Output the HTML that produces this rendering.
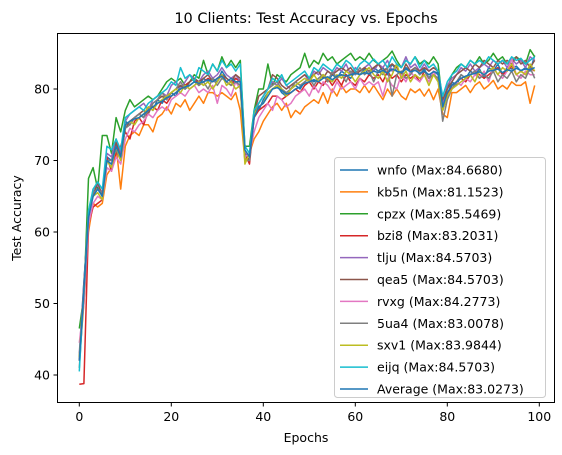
<!DOCTYPE html>
<html><head><meta charset="utf-8"><style>
body{margin:0;background:#fff;}
svg{display:block;font-family:"DejaVu Sans","Liberation Sans",sans-serif;}
</style></head><body>
<svg id="chart" width="562" height="455" viewBox="0 0 562 455" xmlns="http://www.w3.org/2000/svg">
<rect width="562" height="455" fill="#fff"/>
<text x="306" y="23" text-anchor="middle" font-size="14.5">10 Clients: Test Accuracy vs. Epochs</text>
<text x="306" y="442" text-anchor="middle" font-size="12.5">Epochs</text>
<text transform="translate(21,218) rotate(-90)" text-anchor="middle" font-size="12.5">Test Accuracy</text>
<g id="ticks"></g>
<g id="lines"></g>
<rect x="57.5" y="33.5" width="497" height="369" fill="none" stroke="#000" stroke-width="1"/>
<g id="legend"></g>
</svg>
<script>
const xTicks=[0,20,40,60,80,100];
const yTicks=[40,50,60,70,80];
const names=["wnfo","kb5n","cpzx","bzi8","tlju","qea5","rvxg","5ua4","sxv1","eijq","Average"];
const maxLabels=["84.6680","81.1523","85.5469","83.2031","84.5703","84.5703","84.2773","83.0078","83.9844","84.5703","83.0273"];
const wnfo=[42.5,53,62.5,65.5,66.5,65,70.5,70,72.5,70.5,75.5,75,76,76.5,76,77.5,77,78.5,78,79,79.5,79,80.5,80,81,81.5,80.5,81.5,81,81.5,81,82.5,81.5,81,81.5,81,71,70,76.5,77,78.5,79.5,80,80.5,79.5,79,80,80.5,80,81,81.5,81,81.5,82,81,82,81.5,82.5,82,81.5,82.5,82,82.8,82,83,82.5,83,82,83.5,82.5,82,83,82.5,83,82,82.8,81.5,82.5,82,77,79,81,80.5,82,81.5,82.5,82,82.8,81.5,83,82.5,83.5,82,83,82.8,83.2,82.5,83,82.5,84.7];
const kb5n=[42,50,60,64,63.5,64,68,69,72,66,72,73.5,74,73.5,75,75,74,76,76.5,77.5,76.5,78,77.5,78.5,77,78,79,78,79.5,79.5,79,79.5,79,78.5,79.5,77,70,71,73,74,75.5,76.5,77.5,78,77,78,76,77,76.5,77.5,78,78.5,78,79.5,78,80,79,80.5,79.5,80,80,79.5,80.5,79.5,80.5,79.5,78.5,80,79,80,79,78.5,80,79.5,80,79,80,78.5,80,76.5,76,79.5,79.5,80,80.5,79.5,80.5,81,80,80.5,81.2,80,80.5,80,81,80.5,80.5,81,78,80.5];
const cpzx=[46.5,51,67.5,69,66,73.5,73.5,71,76,74,77,78.5,77.5,78,78.5,79,78.5,79,80,81,81.5,81,81.5,80.5,81,82,81.5,84,82,83.5,82.5,84.5,83,84,83,84,72,72,77,80,80,83.5,80.5,82,81.5,81,82,82.5,83,85,83,84,83.5,85,84,84.5,83.5,84,84.5,85,84,84.5,84,85,84,83.5,84,84.5,85.3,84,83,84,83.5,84.5,83.5,84,83.5,84.5,83.5,78,80,82,83,83.5,83,84,83.5,84.5,83.5,84,85,84,84.5,83.5,84,84.5,84,83.5,85.5,84.5];
const bzi8=[38.7,38.8,61,63.5,64,64.5,70.5,68.5,71,72,74,73,75.5,76,75,77,77.5,77,78.5,78,79,79.5,80,80.5,81,81.5,80.5,81,81.5,81,81.5,82,81,80.5,81.5,81,71,69.5,76,77,77.5,78,79,79,78.5,79,79.5,80,79.5,80.5,81,80,81,80.5,81.5,80.5,81.5,80.5,82,81,80.5,81.5,81,82,81.5,82,81,82.5,81.5,82,81,82,81.5,82,81,82.5,81.5,82,81.5,77.5,79,80.5,81,81.5,81,82,82.5,82,81.5,82,82.5,83,82,82.5,83.2,82,82.5,82,83,82.5];
const tlju=[43,53,62,66,66.5,65.5,71,70.5,73,71,75.5,76.5,77,77.5,78,77,78.5,79,79.5,79,80.5,81,80,81,82,81.5,81,82,82.5,81.5,82,83,82,81.5,82,81,71,70.5,76.5,78,79,80,81,80.5,81.5,80.5,80,81,81.5,82,81,82.5,82,83,82.5,82,83,82.5,83.5,82,83,82.5,83,83.5,82.5,83.5,83,84,82.5,83.5,83,84.5,83,83.5,82.5,83.5,82.5,83,82.5,78,80.5,81.5,82,83,82.5,83.5,82.5,83,83.5,83,84,83.5,84,83,84.2,83.5,84,83,84.5,84];
const qea5=[42,52.5,63,65,67,65,70,69,72.5,70.5,74.5,75.5,76,76.5,77,76.5,78,78.5,79,78.5,79.5,80,80.5,80,81,81.5,81,81.5,82,81,81.5,82,81.5,81,82,81.5,71,70,76.5,79,79.5,80,82,81.5,80.5,80,80.5,81,81.5,82,81.5,82,82.5,81.5,82.5,82,82.5,83,82.5,83,82,82.5,83,82.5,83,83.5,82.5,83,83.5,83,82,83.5,82.5,83,82.5,83,82.5,83,82.5,78.5,80,81,82,82.5,83,82.5,83.5,83,84,83.5,83,84,83.5,84,83.5,84.5,83.5,84,83,84];
const rvxg=[44.5,50,61,64,65,64.5,69,68.5,70.5,69.5,73,74.5,74,75,75.5,76.5,76,77,77.5,77,78.5,79,79.5,79,80,80.5,79.5,80,79.5,80.5,78,80.5,80,79,81,80,70.5,71,74,76,77,78,77,79,78.5,77.5,78,79,79.5,80,79,80.5,79.5,81,80.5,79.5,81,80,80.5,81,80,81.5,80.5,81,80.5,81,79,81.5,80.5,80,82,81,82.5,81.5,81,82,81,82.5,81,77,79,80,81,80.5,81.5,81,82,81.5,82.5,81,83,82,81.5,82.5,84.3,82,81.5,82.5,82,82];
const ua4=[41,51,62,65.5,66,65.5,70,70,71.5,70,74.5,75,76,76.5,76,77,78,78.5,79.5,78.5,79.5,80,81,80,80.5,81,80.5,81,80,81.5,80.5,81.5,81,80.5,81,80.5,70,70,76,78,79,80,80.5,81,80,79.5,80,81,80.5,81,81.5,80.5,81.5,82,81,82.5,81.5,82,81,82.5,82,83,82,82.5,81,82.5,82,83,79,82,82.5,81.5,82,83,82,82.5,81.5,82,81.5,75.5,78.5,80,81,82,81.5,82,82.5,81.5,82,81.5,82.5,81,82,81.5,82.5,81,82,81.5,83,81.5];
const sxv1=[42.5,52,62.5,65,65.5,64.5,70,69,72,70,75,75.5,75,76,76.5,77.5,77,78,78.5,79,79.5,80,79.5,80.5,80,80.5,81,80.5,81,80,81,82,80.5,81,80,80.5,69.5,71,76.5,77.5,78,79.5,80,80.5,80,79,80,80.5,81,81.5,81,82,81,82,81.5,81,82,81.5,82.5,82,81,82,82.5,83,82,81.5,82.5,81,82,83.5,81.5,82.5,81,82,81.5,82,80.5,82,81,77,79,80,80.5,81,81.5,82,81,82.5,82,82.5,83,82,83,82.5,83.5,82,82.5,82,83.5,82.5];
const eijq=[40.5,52,63,66,67,66,72,71.5,73,71.5,76,76.5,77,77.5,77,78,78.5,79,79.5,80,81,80.5,83,81.5,82,81,83,82.5,82,83.5,82.5,84,83,83.5,82.5,83.5,72,71,77,78,79,80,81.5,81,82,80.5,81,81.5,82,82.5,81.5,83,82.5,83.5,83,82.5,83.5,83,84,83.5,82.5,83.5,84,83.5,84.2,83.5,84,83,84.5,83.5,83,84,83.5,84.5,83,84,83,83.5,82.5,79,81,82,82.5,83.5,83,84,83.5,84,83.5,84.5,84,83.5,84,83.5,84.5,84,84.3,83.5,84,84.5];
const average=[42,52,62,65,66,65,70,69.5,72,70.5,75,75.5,75.8,76,76.5,77,77.5,78,78.3,78.8,79,79.5,80,80.3,80.5,81,80.8,81,81.3,81,81.5,81.8,81,81.5,81,81,71.5,70.5,76,77.5,78,79,80,80.2,79.8,79.3,79.5,80,80.3,80.8,81,81.3,81,81.5,81.7,81.3,81.8,82,81.8,82,82.2,82,82.3,82.1,82.5,82.3,82.6,82.2,82.8,82.5,82.3,82.8,82.4,82.6,82.2,82.5,82,82.4,82.3,77.5,79.5,80.5,81,81.5,81.8,82,82.2,82.4,82,82.5,82.6,82.8,82.3,82.7,82.5,82.9,82.6,82.8,82.7,83];
const series=[wnfo,kb5n,cpzx,bzi8,tlju,qea5,rvxg,ua4,sxv1,eijq,average];
const colors=["#1f77b4","#ff7f0e","#2ca02c","#d62728","#9467bd","#8c564b","#e377c2","#7f7f7f","#bcbd22","#17becf","#1f77b4"];

const NS="http://www.w3.org/2000/svg";
const X0=79.3,XS=4.6;const Y0=375,YS=7.15;
function xs(v){return X0+v*XS;}
function ys(v){return Y0-(v-40)*YS;}
const tg=document.getElementById('ticks');
xTicks.forEach(t=>{
  const l=document.createElementNS(NS,'line');
  
  
  l.setAttribute('x1',xs(t));l.setAttribute('x2',xs(t));l.setAttribute('y1',403);l.setAttribute('y2',406.5);l.setAttribute('stroke','#000');
  tg.appendChild(l);
  const tx=document.createElementNS(NS,'text');
  
  
  tx.setAttribute('x',xs(t));tx.setAttribute('y',421);tx.setAttribute('text-anchor','middle');tx.setAttribute('font-size','12.5');
  tx.textContent=t;tg.appendChild(tx);
});
yTicks.forEach(t=>{
  const l=document.createElementNS(NS,'line');
  
  
  l.setAttribute('x1',53.5);l.setAttribute('x2',57);l.setAttribute('y1',ys(t));l.setAttribute('y2',ys(t));l.setAttribute('stroke','#000');
  tg.appendChild(l);
  const tx=document.createElementNS(NS,'text');
  
  
  tx.setAttribute('x',50);tx.setAttribute('y',ys(t)+4.5);tx.setAttribute('text-anchor','end');tx.setAttribute('font-size','12.5');
  tx.textContent=t;tg.appendChild(tx);
});
const lg=document.getElementById('lines');
series.forEach((s,i)=>{
  const p=document.createElementNS(NS,'polyline');
  
  
  p.setAttribute('points',s.map((v,j)=>xs(j).toFixed(1)+','+ys(v).toFixed(1)).join(' '));
  p.setAttribute('fill','none');p.setAttribute('stroke',colors[i]);p.setAttribute('stroke-width','1.5');p.setAttribute('stroke-linejoin','round');
  lg.appendChild(p);
});
const leg=document.getElementById('legend');
const box=document.createElementNS(NS,'rect');


box.setAttribute('x',334.5);box.setAttribute('y',157.5);box.setAttribute('width',211);box.setAttribute('height',240);box.setAttribute('rx',3);
box.setAttribute('fill','#fff');box.setAttribute('fill-opacity','0.8');box.setAttribute('stroke','#ccc');
leg.appendChild(box);
names.forEach((n,i)=>{
  const y=170+i*21.9;
  const l=document.createElementNS(NS,'line');
  
  
  l.setAttribute('x1',340);l.setAttribute('x2',368);l.setAttribute('y1',y);l.setAttribute('y2',y);l.setAttribute('stroke',colors[i]);l.setAttribute('stroke-width','1.5');
  leg.appendChild(l);
  const t=document.createElementNS(NS,'text');
  
  
  t.setAttribute('x',377);t.setAttribute('y',y+4.5);t.setAttribute('font-size','12.5');
  t.textContent=n+' (Max:'+maxLabels[i]+')';
  leg.appendChild(t);
});
</script>
</body></html>
